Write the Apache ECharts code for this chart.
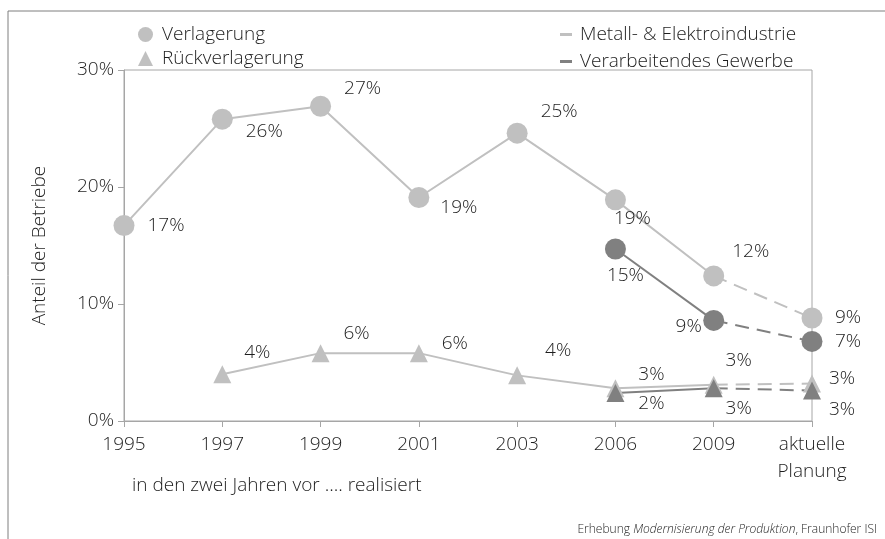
<!DOCTYPE html>
<html>
<head>
<meta charset="utf-8">
<script src="https://cdn.jsdelivr.net/npm/echarts@6/dist/echarts.min.js"></script>
<style>
	html, body { margin: 0; padding: 0; background: #fff; }
	#chart { width: 885px; height: 539px; }
</style>
</head>
<body>
<div id="chart"></div>
<script>
	// Kategorien und Werte (in %)
	var categories = ['1995', '1997', '1999', '2001', '2003', '2006', '2009', 'aktuelle\nPlanung'];
	var metallVerlagerung = [16.7, 25.8, 26.9, 19.1, 24.6, 18.9, 12.4, 8.8];
	var gewerbeVerlagerung = [null, null, null, null, null, 14.7, 8.6, 6.8];
	var metallRueck = [null, 4.0, 5.8, 5.8, 3.9, 2.8, 3.1, 3.2];
	var gewerbeRueck = [null, null, null, null, null, 2.4, 2.8, 2.6];
	var yTicks = [0, 10, 20, 30];

	// Lage der Beschriftungen relativ zum Punkt
	var offMetallV = [[42, 0], [42, 12], [42, -18], [40, 10], [42, -22], [17, 19], [37, -24], [36, 0]];
	var offGewerbeV = [null, null, null, null, null, [10, 27], [-25, 6], [36, 0]];
	var offMetallR = [null, [35, -22], [36, -20], [36, -10], [41, -25], [36, -14], [25, -24], [30, -5]];
	var offGewerbeR = [null, null, null, null, null, [36, 11], [25, 20], [30, 19]];

	var LIGHT = '#c0c0c0', DARK = '#808080', TEXT = '#1e1e1e', AXIS = '#a6a6a6';
	var FONT = '"Open Sans", "Noto Sans", sans-serif';
	var FS = 19, FW = 300;

	function makeSeries(values, offsets, color, symbol, size) {
		var lbl = function(off) {
			return { show: true, position: 'inside', offset: off, color: TEXT, fontSize: FS, fontWeight: FW, fontFamily: FONT,
				formatter: function(p) { return Math.round(p.value) + '%'; } };
		};
		var solid = values.map(function(v, i) {
			if (v == null || i > 6) return '-';
			return { value: v, label: lbl(offsets[i]) };
		});
		var dashed = values.map(function(v, i) {
			if (i === 6) return { value: v, symbol: 'none', label: { show: false } };
			if (i === 7) return { value: v, label: lbl(offsets[i]) };
			return '-';
		});
		var base = {
			type: 'line',
			symbol: symbol,
			symbolSize: size,
			itemStyle: { color: color },
			emphasis: { disabled: true }
		};
		return [
			Object.assign({}, base, { data: solid, lineStyle: { color: color, width: 2 } }),
			Object.assign({}, base, { data: dashed, lineStyle: { color: color, width: 2, type: [14, 8] } })
		];
	}

	var chart = echarts.init(document.getElementById('chart'));
	var series = [].concat(
		makeSeries(metallVerlagerung, offMetallV, LIGHT, 'circle', 21),
		makeSeries(metallRueck, offMetallR, LIGHT, 'triangle', 18),
		makeSeries(gewerbeVerlagerung, offGewerbeV, DARK, 'circle', 21),
		makeSeries(gewerbeRueck, offGewerbeR, DARK, 'triangle', 18)
	);
	// nur für die Legenden
	series.push(
		{ name: 'Verlagerung', type: 'line', data: [], itemStyle: { color: LIGHT } },
		{ name: 'Rückverlagerung', type: 'line', data: [], itemStyle: { color: LIGHT } },
		{ name: 'Metall- & Elektroindustrie', type: 'line', data: [], itemStyle: { color: LIGHT } },
		{ name: 'Verarbeitendes Gewerbe', type: 'line', data: [], itemStyle: { color: DARK } }
	);

	var txt = { fontSize: FS, fontWeight: FW, color: TEXT, fontFamily: FONT };

	var option = {
		animation: false,
		textStyle: { fontFamily: FONT, color: TEXT },
		grid: {
			left: 124, right: 73, top: 70, bottom: 118,
			show: true, borderColor: AXIS, borderWidth: 1, backgroundColor: 'transparent'
		},
		legend: [{
			left: 133, top: 20, orient: 'vertical', itemWidth: 15, itemHeight: 15, itemGap: 5,
			selectedMode: false,
			textStyle: Object.assign({ padding: [0, 0, 0, 4] }, txt),
			data: [{ name: 'Verlagerung', icon: 'circle' }, { name: 'Rückverlagerung', icon: 'triangle' }]
		}, {
			left: 555, top: 20, orient: 'vertical', itemWidth: 12, itemHeight: 3, itemGap: 8,
			selectedMode: false,
			textStyle: Object.assign({ padding: [0, 0, 0, 3] }, txt),
			data: [{ name: 'Metall- & Elektroindustrie', icon: 'rect' }, { name: 'Verarbeitendes Gewerbe', icon: 'rect' }]
		}],
		xAxis: {
			type: 'category',
			boundaryGap: false,
			data: categories,
			axisLine: { lineStyle: { color: AXIS, width: 1 } },
			axisTick: { alignWithLabel: true, length: 6, lineStyle: { color: AXIS } },
			axisLabel: Object.assign({ margin: 10, lineHeight: 27, interval: 0 }, txt),
			splitLine: { show: false }
		},
		yAxis: {
			type: 'value',
			min: yTicks[0], max: yTicks[yTicks.length - 1], interval: 10,
			name: 'Anteil der Betriebe',
			nameLocation: 'middle',
			nameGap: 75,
			nameTextStyle: txt,
			axisLine: { show: true, lineStyle: { color: AXIS, width: 1 } },
			axisTick: { show: true, length: 6, lineStyle: { color: AXIS } },
			axisLabel: Object.assign({ margin: 10, formatter: '{value}%' }, txt),
			splitLine: { show: false }
		},
		graphic: [{
			type: 'polyline',
			shape: { points: [[8, 540], [8, 11], [886, 11]] },
			style: { stroke: '#7f7f7f', lineWidth: 1, fill: null }
		}, {
			type: 'text',
			left: 132, top: 476,
			style: { text: 'in den zwei Jahren vor .... realisiert', fill: TEXT, font: FW + ' ' + FS + 'px ' + FONT }
		}, {
			type: 'text',
			right: 8, bottom: 3,
			style: {
				text: '{n|Erhebung }{i|Modernisierung der Produktion}{n|, Fraunhofer ISI}',
				rich: {
					n: { fontSize: 12, fontWeight: 300, fontFamily: FONT, fill: TEXT },
					i: { fontSize: 12, fontWeight: 300, fontFamily: FONT, fontStyle: 'italic', fill: TEXT }
				}
			}
		}],
		series: series
	};
	chart.setOption(option);
</script>
</body>
</html>
